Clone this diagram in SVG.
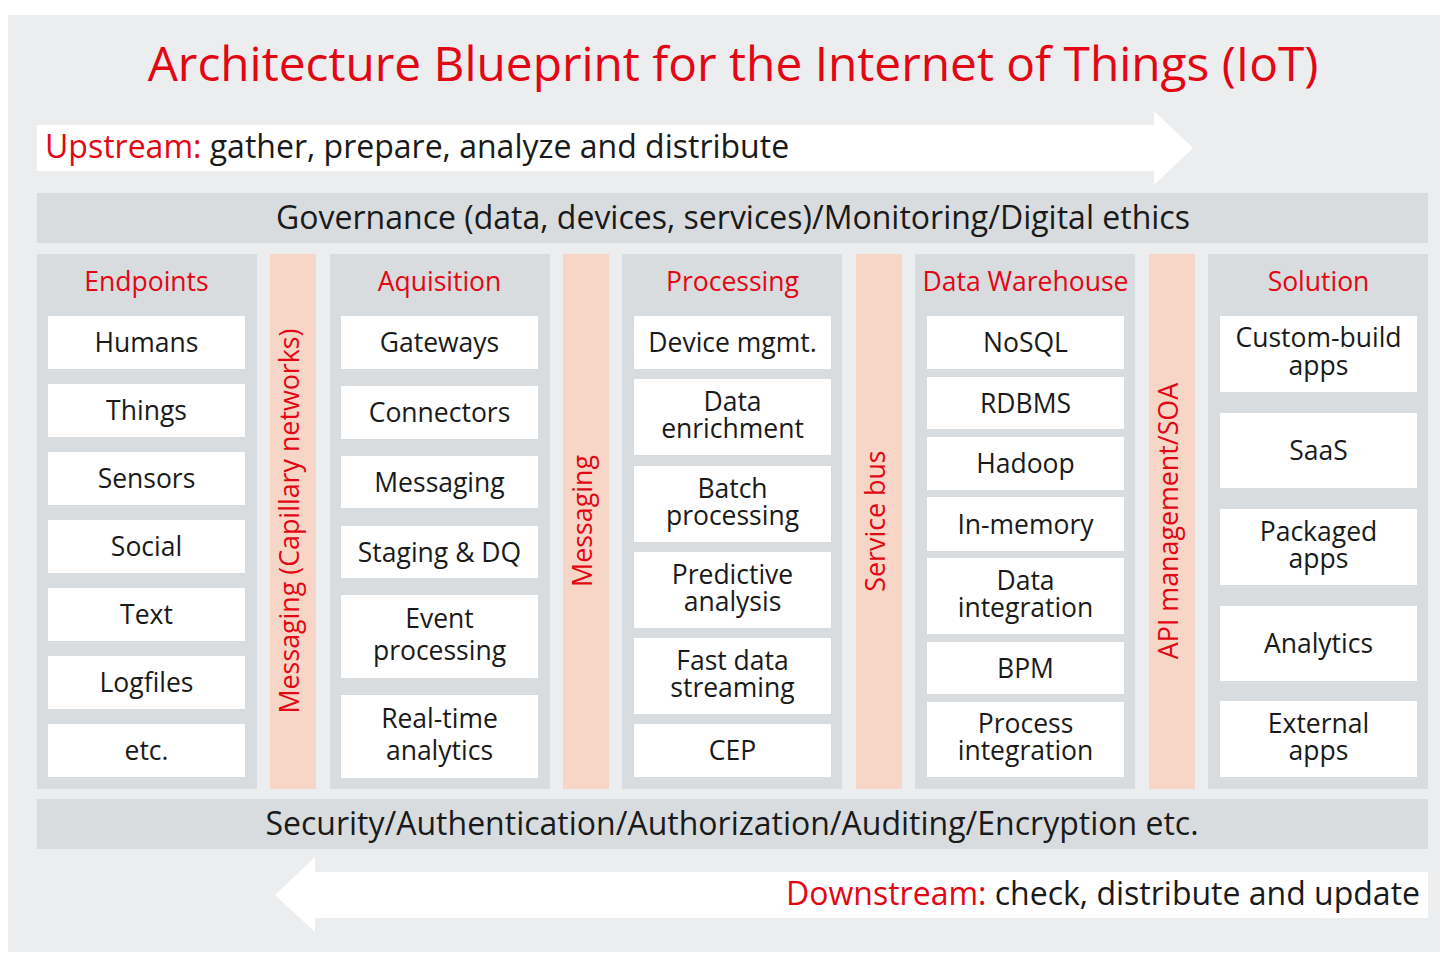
<svg xmlns="http://www.w3.org/2000/svg" width="1443" height="953" viewBox="0 0 1443 953">
<style>
text{font-family:"Open Sans","Noto Sans","Liberation Sans",sans-serif;fill:#1a1a1a}
.red{fill:#e30613}
.title{font-size:47.8px;text-anchor:middle}
.flow{font-size:32px}
.band{font-size:32px;text-anchor:middle}
.hdr{font-size:26.5px;text-anchor:middle}
.bt{font-size:26.5px;text-anchor:middle}
.vt{font-size:26.8px;text-anchor:middle}
.col{fill:#d9dcde}
.bar{fill:#d9dcde}
.strip{fill:#f7d6c8}
.box{fill:#ffffff}
</style>
<rect x="0" y="0" width="1443" height="953" fill="#ffffff"/>
<rect x="8" y="15" width="1432" height="937" fill="#ecedef"/>
<text class="title red" x="733" y="81">Architecture Blueprint for the Internet of Things (IoT)</text>

<g id="upstream">
<polygon points="37,125 1154,125 1154,111 1193,148 1154,185 1154,171 37,171" fill="#ffffff"/>
<text class="flow" x="45" y="158"><tspan class="red">Upstream:</tspan> gather, prepare, analyze and distribute</text>
</g>

<g id="governance">
<rect class="bar" x="37" y="193" width="1391" height="50"/>
<text class="band" x="733" y="228.5">Governance (data, devices, services)/Monitoring/Digital ethics</text>
</g>

<g id="endpoints">
<rect class="col" x="37" y="254" width="220" height="535"/>
<text class="hdr red" x="146.5" y="291">Endpoints</text>
<rect class="box" x="48" y="316" width="197" height="53"/><text class="bt" x="146.5" y="352">Humans</text>
<rect class="box" x="48" y="384" width="197" height="53"/><text class="bt" x="146.5" y="420">Things</text>
<rect class="box" x="48" y="452" width="197" height="53"/><text class="bt" x="146.5" y="488">Sensors</text>
<rect class="box" x="48" y="520" width="197" height="53"/><text class="bt" x="146.5" y="556">Social</text>
<rect class="box" x="48" y="588" width="197" height="53"/><text class="bt" x="146.5" y="624">Text</text>
<rect class="box" x="48" y="656" width="197" height="53"/><text class="bt" x="146.5" y="692">Logfiles</text>
<rect class="box" x="48" y="724" width="197" height="53"/><text class="bt" x="146.5" y="760">etc.</text>
</g>

<g id="messaging-capillary">
<rect class="strip" x="270" y="254" width="46" height="535"/>
<text class="vt red" transform="translate(299,521) rotate(-90)">Messaging (Capillary networks)</text>
</g>

<g id="aquisition">
<rect class="col" x="330" y="254" width="220" height="535"/>
<text class="hdr red" x="439.5" y="291">Aquisition</text>
<rect class="box" x="341" y="316" width="197" height="53"/><text class="bt" x="439.5" y="352">Gateways</text>
<rect class="box" x="341" y="386" width="197" height="53"/><text class="bt" x="439.5" y="422">Connectors</text>
<rect class="box" x="341" y="456" width="197" height="52"/><text class="bt" x="439.5" y="491.5">Messaging</text>
<rect class="box" x="341" y="526" width="197" height="52"/><text class="bt" x="439.5" y="561.5">Staging &amp; DQ</text>
<rect class="box" x="341" y="595" width="197" height="83"/><text class="bt" x="439.5" y="628">Event</text><text class="bt" x="439.5" y="660">processing</text>
<rect class="box" x="341" y="695" width="197" height="83"/><text class="bt" x="439.5" y="728">Real-time</text><text class="bt" x="439.5" y="760">analytics</text>
</g>

<g id="messaging">
<rect class="strip" x="563" y="254" width="46" height="535"/>
<text class="vt red" transform="translate(592,521) rotate(-90)">Messaging</text>
</g>

<g id="processing">
<rect class="col" x="622" y="254" width="220" height="535"/>
<text class="hdr red" x="732.5" y="291">Processing</text>
<rect class="box" x="634" y="316" width="197" height="53"/><text class="bt" x="732.5" y="352">Device mgmt.</text>
<rect class="box" x="634" y="379" width="197" height="76"/><text class="bt" x="732.5" y="411">Data</text><text class="bt" x="732.5" y="438">enrichment</text>
<rect class="box" x="634" y="466" width="197" height="76"/><text class="bt" x="732.5" y="498">Batch</text><text class="bt" x="732.5" y="525">processing</text>
<rect class="box" x="634" y="552" width="197" height="76"/><text class="bt" x="732.5" y="584">Predictive</text><text class="bt" x="732.5" y="611">analysis</text>
<rect class="box" x="634" y="638" width="197" height="76"/><text class="bt" x="732.5" y="670">Fast data</text><text class="bt" x="732.5" y="697">streaming</text>
<rect class="box" x="634" y="724" width="197" height="53"/><text class="bt" x="732.5" y="760">CEP</text>
</g>

<g id="service-bus">
<rect class="strip" x="856" y="254" width="46" height="535"/>
<text class="vt red" transform="translate(885,521) rotate(-90)">Service bus</text>
</g>

<g id="data-warehouse">
<rect class="col" x="915" y="254" width="220" height="535"/>
<text class="hdr red" x="1025.5" y="291">Data Warehouse</text>
<rect class="box" x="927" y="316" width="197" height="53"/><text class="bt" x="1025.5" y="352">NoSQL</text>
<rect class="box" x="927" y="377" width="197" height="52"/><text class="bt" x="1025.5" y="412.5">RDBMS</text>
<rect class="box" x="927" y="437" width="197" height="53"/><text class="bt" x="1025.5" y="473">Hadoop</text>
<rect class="box" x="927" y="497" width="197" height="54"/><text class="bt" x="1025.5" y="533.5">In-memory</text>
<rect class="box" x="927" y="558" width="197" height="76"/><text class="bt" x="1025.5" y="590">Data</text><text class="bt" x="1025.5" y="617">integration</text>
<rect class="box" x="927" y="642" width="197" height="52"/><text class="bt" x="1025.5" y="677.5">BPM</text>
<rect class="box" x="927" y="702" width="197" height="75"/><text class="bt" x="1025.5" y="733">Process</text><text class="bt" x="1025.5" y="760">integration</text>
</g>

<g id="api-management">
<rect class="strip" x="1149" y="254" width="46" height="535"/>
<text class="vt red" transform="translate(1178,521) rotate(-90)">API management/SOA</text>
</g>

<g id="solution">
<rect class="col" x="1208" y="254" width="220" height="535"/>
<text class="hdr red" x="1318.5" y="291">Solution</text>
<rect class="box" x="1220" y="316" width="197" height="76"/><text class="bt" x="1318.5" y="347">Custom-build</text><text class="bt" x="1318.5" y="375">apps</text>
<rect class="box" x="1220" y="413" width="197" height="75"/><text class="bt" x="1318.5" y="460">SaaS</text>
<rect class="box" x="1220" y="509" width="197" height="76"/><text class="bt" x="1318.5" y="541">Packaged</text><text class="bt" x="1318.5" y="568">apps</text>
<rect class="box" x="1220" y="606" width="197" height="75"/><text class="bt" x="1318.5" y="653">Analytics</text>
<rect class="box" x="1220" y="701" width="197" height="76"/><text class="bt" x="1318.5" y="733">External</text><text class="bt" x="1318.5" y="760">apps</text>
</g>

<g id="security">
<rect class="bar" x="37" y="799" width="1391" height="50"/>
<text class="band" x="732" y="834.5">Security/Authentication/Authorization/Auditing/Encryption etc.</text>
</g>

<g id="downstream">
<polygon points="1428,872 315,872 315,857 275,895 315,932 315,918 1428,918" fill="#ffffff"/>
<text class="flow" x="1420" y="905" text-anchor="end"><tspan class="red">Downstream:</tspan> check, distribute and update</text>
</g>

<g id="connectors"></g>
</svg>
